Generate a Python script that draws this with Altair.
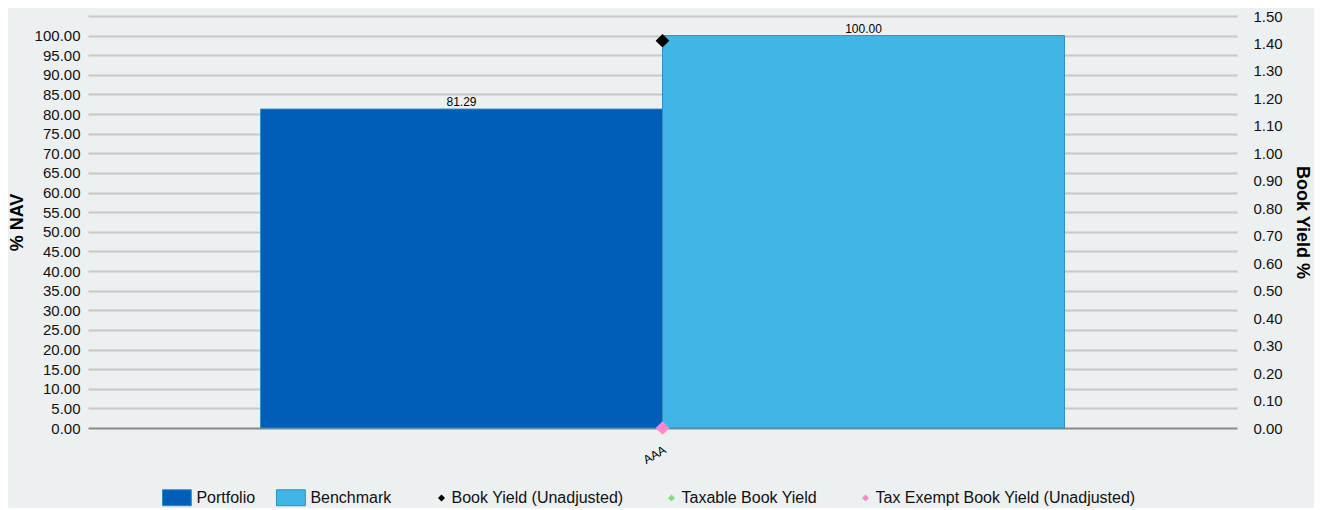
import altair as alt
import pandas as pd

categories = ["AAA"]
series = ["Portfolio", "Benchmark"]
bar_values = [81.29, 100.00]
point_series = ["Taxable Book Yield", "Book Yield (Unadjusted)", "Tax Exempt Book Yield (Unadjusted)"]
point_values = [1.41, 1.41, 0.0]
bar_colors = ["#005EB8", "#41B6E6"]
legend_order = ["Book Yield (Unadjusted)", "Taxable Book Yield", "Tax Exempt Book Yield (Unadjusted)"]
legend_colors = ["#000000", "#7FE07F", "#FF88CC"]
nav_ticks = [i * 5 for i in range(22)]
yield_ticks = [i / 10 for i in range(16)]

bars_df = pd.DataFrame({"cat": categories * 2, "series": series, "value": bar_values})
pts_df = pd.DataFrame({"cat": categories * 3, "series": point_series, "value": point_values})

FONT = "Liberation Sans"
BG = "#EDF0F1"

left_axis = alt.Axis(values=nav_ticks,
                     labelExpr="datum.value > 100 ? '' : format(datum.value, '.2f')",
                     labelOverlap=False,
                     grid=True, gridWidth=2,
                     gridColor={"condition": {"test": "datum.value === 0", "value": "#8A8A8A"},
                                "value": "#C8C8C8"},
                     ticks=False, domain=False, labelFontSize=15,
                     labelColor="#111111", labelFont=FONT, labelPadding=8,
                     titleFontSize=18, titleFont=FONT, titleFontWeight="bold",
                     titleColor="#000000", titlePadding=8)
left_scale = alt.Scale(domain=[0, 105], nice=False)

x_axis = alt.Axis(labelAngle=-30, labelFontSize=12, labelColor="#000000",
                  labelFont=FONT, ticks=False, domain=False, labelPadding=16)
x_scale = alt.Scale(paddingInner=0, paddingOuter=0.2146)

bar_rect_path = "M-1.8,-1L1.8,-1L1.8,1L-1.8,1Z"

bars = alt.Chart(bars_df).mark_bar(stroke="#2E8FC4", strokeWidth=1).encode(
    x=alt.X("cat:N", title=None, scale=x_scale, axis=x_axis),
    xOffset=alt.XOffset("series:N", sort=series),
    y=alt.Y("value:Q", title="% NAV", scale=left_scale, axis=left_axis),
    color=alt.Color("series:N", sort=series,
                    scale=alt.Scale(domain=series, range=bar_colors),
                    legend=alt.Legend(title=None, orient="none", direction="horizontal",
                                      legendX=80.4, legendY=473,
                                      symbolType=bar_rect_path, symbolSize=256,
                                      symbolStrokeColor="#2E8FC4", symbolStrokeWidth=1,
                                      labelFontSize=16, labelFont=FONT, labelColor="#111111",
                                      columnPadding=19, labelOffset=11, labelLimit=400)),
)

labels = alt.Chart(bars_df).mark_text(dy=-7, fontSize=12, font=FONT, color="#000000").encode(
    x=alt.X("cat:N", title=None, scale=x_scale, axis=x_axis),
    xOffset=alt.XOffset("series:N", sort=series),
    y=alt.Y("value:Q", title="% NAV", scale=left_scale, axis=left_axis),
    text=alt.Text("value:Q", format=".2f"),
)

left = alt.layer(bars, labels)

points = alt.Chart(pts_df).mark_point(shape="diamond", filled=True, size=185, opacity=1).encode(
    x=alt.X("cat:N", title=None, scale=x_scale, axis=x_axis),
    y=alt.Y("value:Q", title="Book Yield %",
            scale=alt.Scale(domain=[0, 1.5], nice=False),
            axis=alt.Axis(values=yield_ticks, format=".2f", orient="right",
                          labelOverlap=False,
                          grid=False, ticks=False, domain=False, labelFontSize=15,
                          labelColor="#111111", labelFont=FONT, labelPadding=16,
                          titleFontSize=18, titleFont=FONT, titleFontWeight="bold",
                          titleColor="#000000", titlePadding=10, titleAngle=90)),
    color=alt.Color("series:N",
                    scale=alt.Scale(domain=legend_order, range=legend_colors),
                    legend=alt.Legend(title=None, orient="none", direction="horizontal",
                                      legendX=345.5, legendY=474,
                                      symbolType="diamond", symbolSize=50,
                                      labelFontSize=16, labelFont=FONT, labelColor="#111111",
                                      columnPadding=40, labelOffset=2, labelLimit=400)),
    order=alt.Order("value:Q"),
)

chart = alt.layer(left, points).resolve_scale(y="independent", color="independent").properties(
    width=1149, height=412, background=BG,
    autosize=alt.AutoSizeParams(type="none"),
    padding={"left": 80, "top": 8, "right": 77, "bottom": 80},
).configure_view(stroke=None)

chart.save("out.html", embed_options={"renderer": "svg", "actions": False})
